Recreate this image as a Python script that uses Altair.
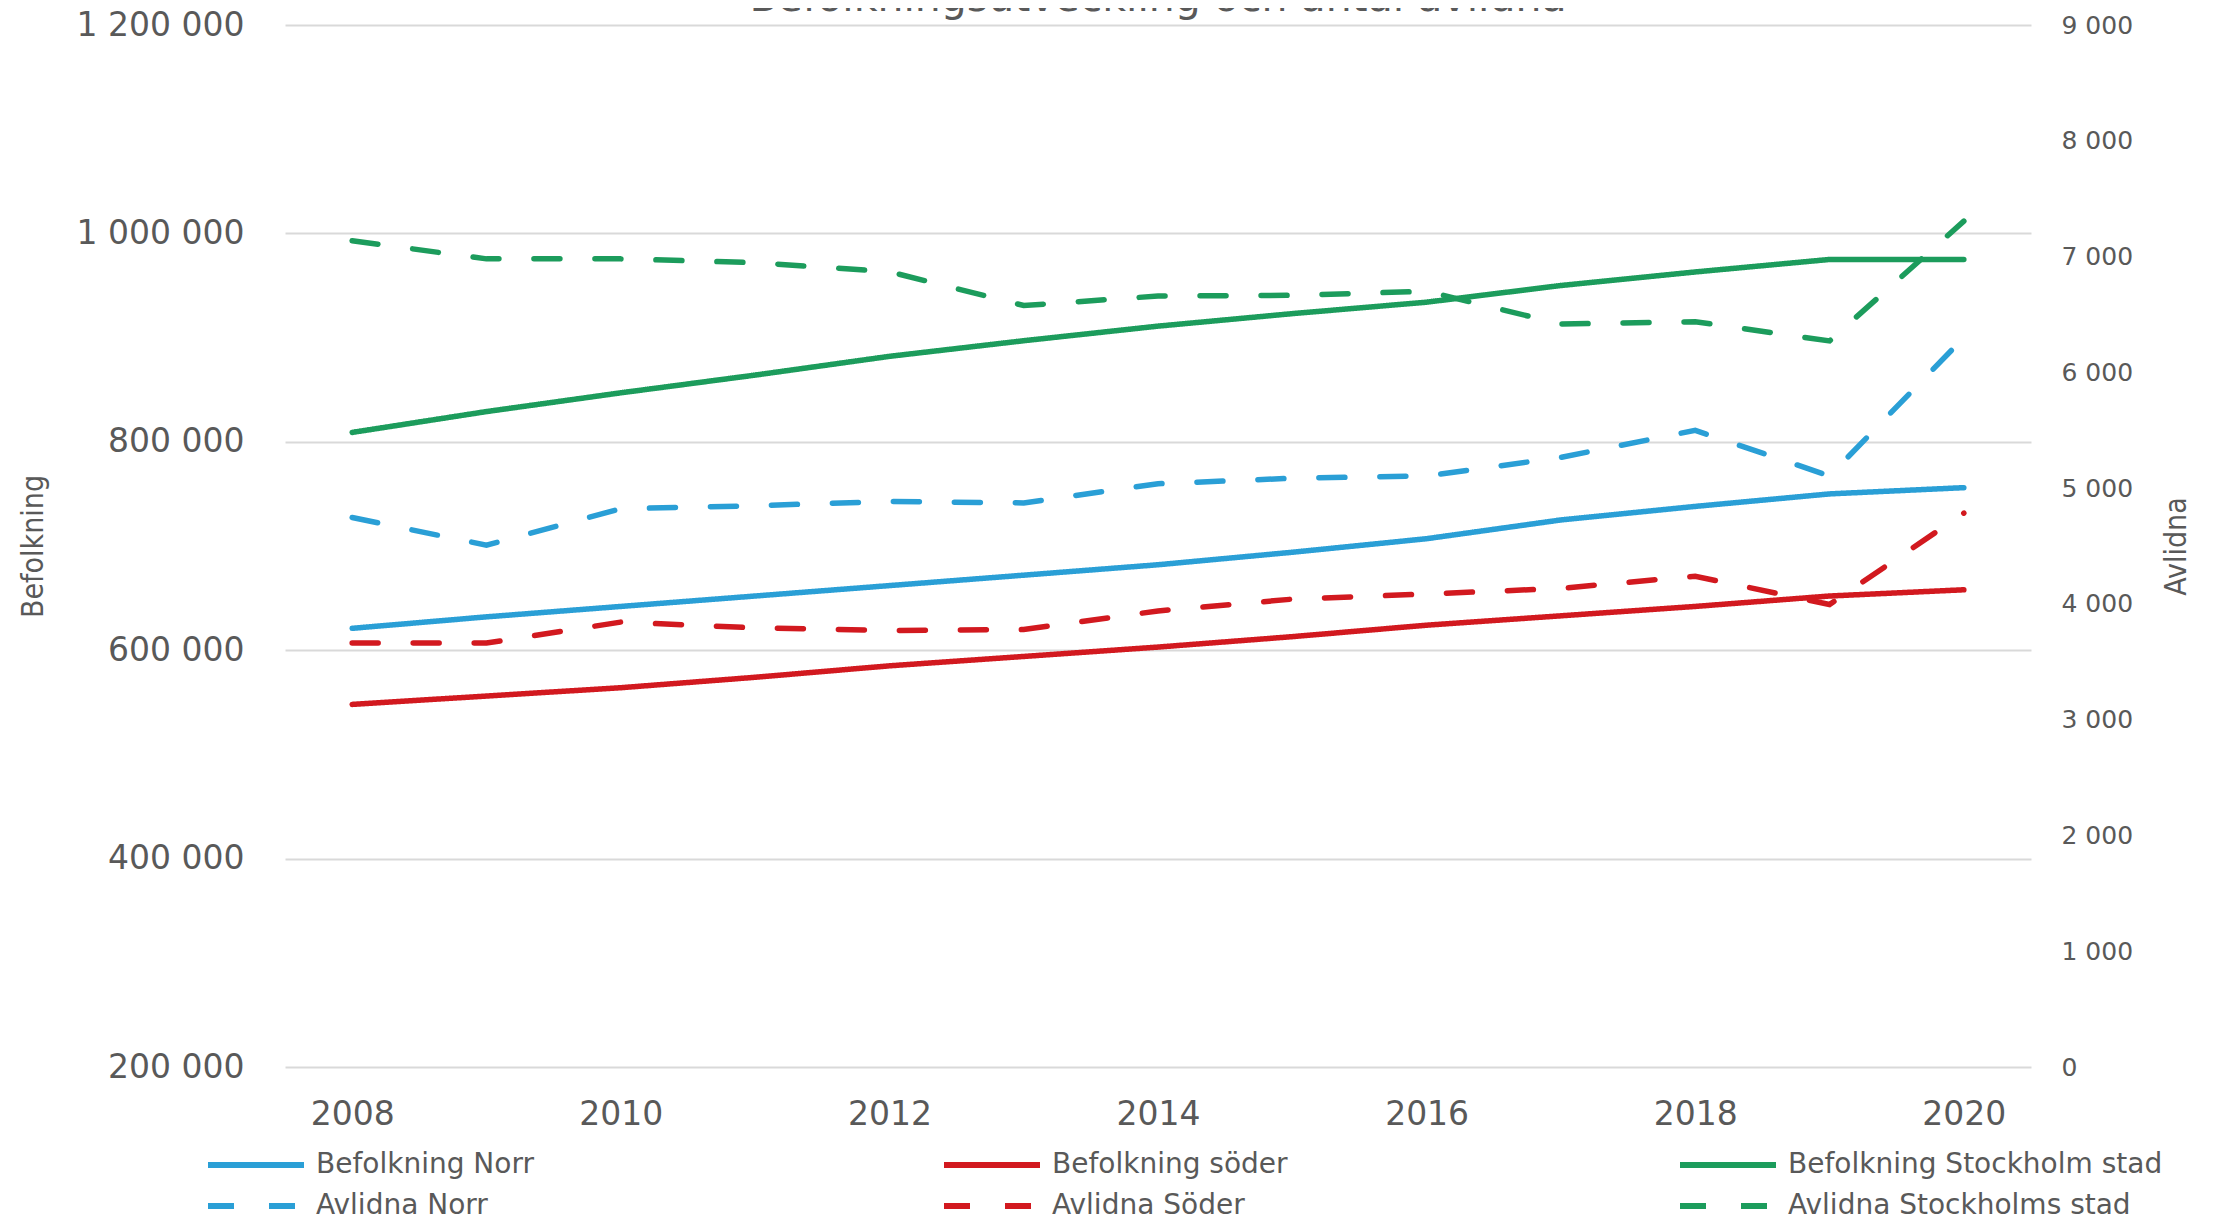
import altair as alt
import pandas as pd

years = list(range(2008, 2021))
series = ["Befolkning Norr", "Befolkning söder", "Befolkning Stockholm stad",
          "Avlidna Norr", "Avlidna Söder", "Avlidna Stockholms stad"]

bef_norr = [621000, 632000, 642000, 652000, 662000, 672000, 682000, 694000, 707000, 725000, 738000, 750000, 756000]
bef_soder = [548000, 556000, 564000, 574000, 585000, 594000, 603000, 613000, 624000, 633000, 642000, 652000, 658000]
bef_sthlm = [809000, 829000, 847000, 864000, 882000, 897000, 911000, 923000, 934000, 950000, 963000, 975000, 975000]
avl_norr = [4746, 4507, 4822, 4848, 4885, 4872, 5038, 5085, 5105, 5265, 5499, 5105, 6300]
avl_soder = [3662, 3662, 3843, 3793, 3770, 3778, 3939, 4041, 4085, 4134, 4239, 3995, 4784]
avl_sthlm = [7137, 6980, 6980, 6947, 6869, 6577, 6659, 6665, 6700, 6417, 6437, 6271, 7306]

colors = ["#2A9FD6", "#D2191F", "#1C9C5C", "#2A9FD6", "#D2191F", "#1C9C5C"]
dashes = [[1, 0], [1, 0], [1, 0], [26, 35], [26, 35], [26, 35]]

pop_rows = []
for name, vals in zip(series[:3], [bef_norr, bef_soder, bef_sthlm]):
    for y, v in zip(years, vals):
        pop_rows.append({"year": y, "value": v, "serie": name})
avl_rows = []
for name, vals in zip(series[3:], [avl_norr, avl_soder, avl_sthlm]):
    for y, v in zip(years, vals):
        avl_rows.append({"year": y, "value": v, "serie": name})
df_pop = pd.DataFrame(pop_rows)
df_avl = pd.DataFrame(avl_rows)

GRAY = "#595959"
FONT = "DejaVu Sans"
NARROW = "Liberation Sans Narrow, DejaVu Sans Condensed, DejaVu Sans"
SPACE_FMT = "replace(format(datum.value, ','), /,/g, ' ')"

leg = alt.Legend(orient="none", legendX=-80, legendY=1126, direction="horizontal",
                 columns=3, title=None, symbolType="stroke", symbolSize=9216,
                 symbolStrokeWidth=6, labelFontSize=28, labelFont=FONT,
                 labelColor=GRAY, gridAlign="all", columnPadding=250, rowPadding=13,
                 clipHeight=28, labelOffset=9, padding=0, labelLimit=600)

x_enc = alt.X("year:Q",
              scale=alt.Scale(domain=[2007.5, 2020.5], nice=False, zero=False),
              axis=alt.Axis(values=list(range(2008, 2021, 2)), format="d", title=None,
                            grid=False, domain=False, ticks=False, labelFontSize=33,
                            labelFont=FONT, labelColor=GRAY, labelPadding=31))
color_enc = alt.Color("serie:N", scale=alt.Scale(domain=series, range=colors), legend=leg)
dash_enc = alt.StrokeDash("serie:N", scale=alt.Scale(domain=series, range=dashes), legend=leg)

pop = alt.Chart(df_pop).mark_line(strokeWidth=5.5, strokeCap="round").encode(
    x=x_enc,
    y=alt.Y("value:Q",
            scale=alt.Scale(domain=[200000, 1200000], nice=False, zero=False),
            axis=alt.Axis(values=list(range(200000, 1200001, 200000)), labelExpr=SPACE_FMT,
                          title="Befolkning", grid=True, gridColor="#d9d9d9", gridWidth=2,
                          domain=False, ticks=False, labelFontSize=33, labelFont=FONT,
                          labelColor=GRAY, labelPadding=41, titleFont=NARROW,
                          titleFontSize=30, titleFontWeight="normal", titleColor=GRAY,
                          titleAngle=270, titleX=-252, titleY=521, titleAlign="center",
                          titleBaseline="middle")),
    color=color_enc,
    strokeDash=dash_enc,
)

avl = alt.Chart(df_avl).mark_line(strokeWidth=5.5, strokeCap="round").encode(
    x=x_enc,
    y=alt.Y("value:Q",
            scale=alt.Scale(domain=[0, 9000], nice=False),
            axis=alt.Axis(orient="right", values=list(range(0, 9001, 1000)), labelExpr=SPACE_FMT,
                          title="Avlidna", grid=False, domain=False, ticks=False,
                          labelFontSize=25, labelFont=FONT, labelColor=GRAY, labelPadding=30,
                          titleFont=NARROW, titleFontSize=30, titleFontWeight="normal",
                          titleColor=GRAY, titleAngle=270, titleX=145, titleY=521,
                          titleAlign="center", titleBaseline="middle")),
    color=color_enc,
    strokeDash=dash_enc,
)

chart = alt.layer(pop, avl).resolve_scale(y="independent").properties(
    width=1746, height=1042,
    title=alt.TitleParams(text="Befolkningsutveckling och antal avlidna", anchor="middle",
                          fontSize=41, font=FONT, fontWeight="normal", color=GRAY,
                          offset=-11),
    autosize=alt.AutoSizeParams(type="none"),
    padding={"left": 277, "top": 17, "right": 182, "bottom": 153},
).configure(background="white").configure_view(stroke=None)

chart.save("out.html", embed_options={"renderer": "svg", "actions": False})
